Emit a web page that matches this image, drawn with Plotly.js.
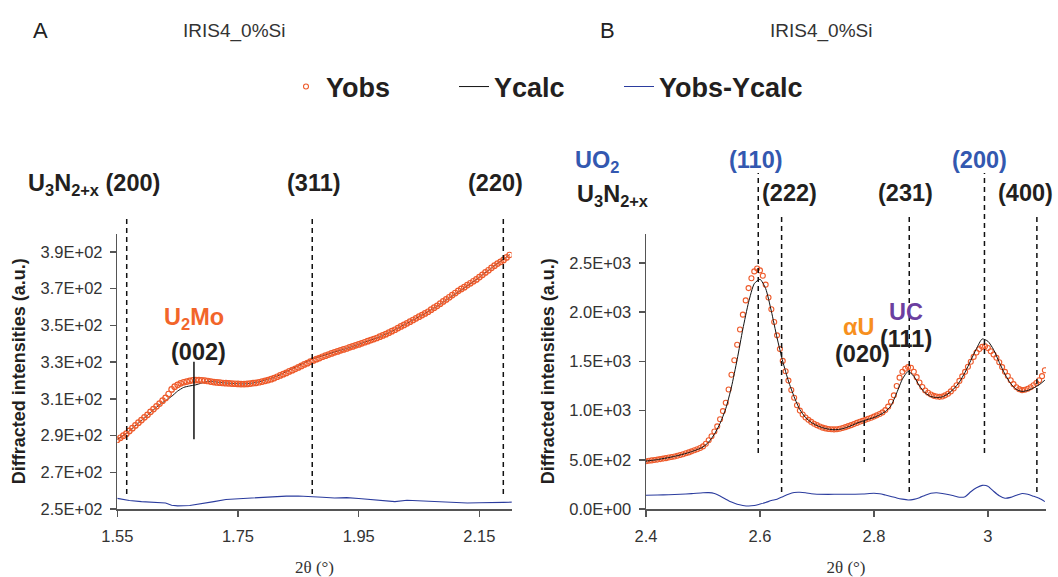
<!DOCTYPE html>
<html>
<head>
<meta charset="utf-8">
<script src="https://cdn.plot.ly/plotly-3.0.1.min.js"></script>
<style>
  html, body { margin: 0; padding: 0; background: #fff; }
  #chart { width: 1058px; height: 577px; }
</style>
</head>
<body>
<div id="chart"></div>
<script>
// ---------- Panel A: 2θ 1.55 – 2.20° ----------
const obsStartA = 1.55, obsStepA = 0.005;
const yObsA = [
  287.7, 288.8, 289.9, 291.0, 292.5, 294.0, 295.5, 297.0, 298.4, 299.9,
  301.3, 302.9, 304.4, 305.9, 307.4, 309.0, 310.5, 312.6, 315.1, 316.6,
  317.6, 318.4, 319.0, 319.4, 319.8, 320.1, 320.2, 320.2, 320.1, 319.9,
  319.7, 319.4, 319.1, 318.9, 318.8, 318.6, 318.5, 318.4, 318.3, 318.2,
  318.1, 318.0, 318.0, 318.1, 318.3, 318.5, 318.7, 319.0, 319.4, 319.8,
  320.2, 320.7, 321.3, 322.0, 322.7, 323.4, 324.1, 324.9, 325.6, 326.3,
  327.1, 327.9, 328.7, 329.4, 330.2, 330.9, 331.6, 332.2, 332.9, 333.5,
  334.1, 334.7, 335.3, 335.8, 336.4, 336.9, 337.4, 338.0, 338.5, 339.1,
  339.6, 340.2, 340.8, 341.4, 342.0, 342.5, 343.1, 343.8, 344.5, 345.2,
  346.0, 346.8, 347.6, 348.5, 349.4, 350.2, 351.1, 352.0, 352.9, 353.8,
  354.7, 355.6, 356.5, 357.4, 358.5, 359.6, 360.6, 361.8, 363.0, 364.1,
  365.3, 366.5, 367.6, 368.8, 369.8, 370.8, 371.9, 372.9, 374.0, 375.0,
  376.3, 377.5, 378.8, 380.0, 381.3, 382.5, 383.6, 384.6, 385.6, 387.0,
  388.3
];
const xCalcA = [1.55,1.56,1.57,1.58,1.59,1.60,1.61,1.62,1.63,1.64,1.65,1.66,1.67,1.68,1.69,1.70,
  1.71,1.72,1.73,1.74,1.75,1.76,1.77,1.78,1.79,1.80,1.81,1.82,1.83,1.84,1.85,1.86,1.87,1.88,1.89,
  1.90,1.91,1.92,1.93,1.94,1.95,1.96,1.97,1.98,1.99,2.00,2.01,2.02,2.03,2.04,2.05,2.06,2.07,2.08,
  2.09,2.10,2.11,2.12,2.13,2.14,2.15,2.16,2.17,2.18,2.19,2.20];
const yCalcA = [287.9,290.0,292.5,295.4,298.2,301.0,304.0,306.8,309.0,311.3,314.2,316.2,317.0,317.6,318.6,319.5,
  319.3,318.9,318.6,318.4,318.2,318.1,318.4,318.9,319.7,320.6,321.7,323.2,324.8,326.4,328.0,329.6,331.2,332.4,333.4,
  334.4,335.5,336.4,337.4,338.5,339.6,340.8,342.0,343.2,344.5,346.0,347.6,349.4,351.1,352.9,354.7,356.5,358.4,360.4,
  362.6,364.8,367.0,369.2,371.5,373.8,376.2,378.7,381.2,383.7,386.0,388.5];
const xDiffA = [1.55,1.57,1.59,1.61,1.63,1.64,1.65,1.67,1.69,1.71,1.73,1.75,1.77,1.79,1.81,1.83,1.85,
  1.87,1.89,1.91,1.93,1.95,1.97,1.99,2.01,2.03,2.05,2.07,2.09,2.11,2.13,2.15,2.17,2.19,2.21];
const yDiffA = [255.8,254.6,254.0,253.5,253.3,252.0,251.7,251.9,252.8,254.0,255.2,255.6,255.8,256.0,256.6,257.0,257.1,
  256.9,256.4,256.0,256.2,255.7,255.2,254.6,254.0,254.8,254.5,254.2,253.7,253.5,253.3,253.4,253.3,253.6,253.8];
const peaksA = [1.5656, 1.873, 2.1896];   // U3N2+x (200), (311), (220)
const peakU2Mo = 1.677;                    // U2Mo (002)
const xTicksA = [1.55, 1.75, 1.95, 2.15];
const xTickTextA = ['1.55', '1.75', '1.95', '2.15'];
const yTicksA = [250, 270, 290, 310, 330, 350, 370, 390];
const yTickTextA = ['2.5E+02','2.7E+02','2.9E+02','3.1E+02','3.3E+02','3.5E+02','3.7E+02','3.9E+02'];

// ---------- Panel B: 2θ 2.40 – 3.10° ----------
const obsStartB = 2.40, obsStepB = 0.005;
const yObsB = [
  485, 490, 494, 498, 502, 507, 512, 517, 523, 528,
  534, 541, 549, 557, 566, 575, 586, 597, 608, 620,
  636, 663, 698, 740, 787, 840, 912, 995, 1080, 1215,
  1365, 1512, 1670, 1825, 1975, 2120, 2245, 2345, 2415, 2445,
  2425, 2370, 2280, 2150, 2030, 1900, 1765, 1625, 1505, 1400,
  1305, 1210, 1130, 1055, 1000, 960, 930, 906, 885, 867,
  852, 838, 827, 819, 813, 810, 809, 810, 815, 823,
  832, 842, 852, 863, 875, 886, 896, 906, 917, 928,
  939, 952, 966, 982, 1005, 1040, 1090, 1155, 1250, 1335,
  1395, 1425, 1442, 1435, 1395, 1340, 1286, 1240, 1205, 1182,
  1163, 1150, 1143, 1140, 1143, 1155, 1172, 1195, 1225, 1258,
  1302, 1348, 1394, 1446, 1497, 1546, 1590, 1625, 1648, 1654,
  1636, 1604, 1570, 1537, 1492, 1442, 1394, 1352, 1308, 1269,
  1238, 1218, 1208, 1212, 1222, 1238, 1257, 1280, 1308, 1350,
  1410
];
const xCalcB = [2.40,2.41,2.42,2.43,2.44,2.45,2.46,2.47,2.48,2.49,2.50,2.51,2.52,2.53,2.54,2.55,2.56,2.57,
  2.58,2.59,2.60,2.61,2.62,2.63,2.64,2.65,2.66,2.67,2.68,2.69,2.70,2.71,2.72,2.73,2.74,2.75,2.76,2.77,
  2.78,2.79,2.80,2.81,2.82,2.83,2.84,2.85,2.86,2.87,2.88,2.89,2.90,2.91,2.92,2.93,2.94,2.95,2.96,2.97,
  2.98,2.99,3.00,3.01,3.02,3.03,3.04,3.05,3.06,3.07,3.08,3.09,3.10];
const yCalcB = [487,494,502,512,523,535,549,565,583,604,630,680,760,870,1020,1240,1520,1830,
  2100,2290,2335,2240,2010,1740,1500,1300,1140,1010,930,880,848,826,812,806,810,825,847,872,
  893,912,930,956,990,1050,1180,1320,1398,1350,1250,1180,1143,1133,1140,1170,1220,1290,1390,1510,
  1630,1728,1705,1620,1490,1370,1275,1215,1195,1205,1230,1262,1310];
const xDiffB = [2.40,2.42,2.44,2.46,2.48,2.50,2.51,2.52,2.53,2.54,2.55,2.56,2.57,2.58,2.59,2.60,2.61,2.62,
  2.63,2.64,2.65,2.66,2.67,2.68,2.69,2.70,2.72,2.74,2.76,2.78,2.80,2.81,2.82,2.83,2.84,2.85,2.86,2.87,
  2.88,2.89,2.90,2.91,2.92,2.93,2.94,2.95,2.96,2.97,2.98,2.99,3.00,3.01,3.02,3.03,3.04,3.05,3.06,3.07,
  3.08,3.09,3.10];
const yDiffB = [140,142,145,150,156,165,166,158,132,100,70,48,36,30,35,50,66,86,
  100,125,150,168,170,165,155,150,149,150,150,152,160,155,142,128,112,100,92,98,
  115,140,160,165,158,148,135,120,125,175,215,240,232,180,135,110,118,140,158,150,
  130,108,75];
const peaksB = [2.597, 2.638, 2.783, 2.862, 2.994, 3.086]; // (110) (222) (020) (231)/(111) (200) (400)
const xTicksB = [2.4, 2.6, 2.8, 3.0];
const xTickTextB = ['2.4', '2.6', '2.8', '3'];
const yTicksB = [0, 500, 1000, 1500, 2000, 2500];
const yTickTextB = ['0.0E+00','5.0E+02','1.0E+03','1.5E+03','2.0E+03','2.5E+03'];

// ---------- helpers & styling ----------
const W = 1058, H = 577;
const px = v => v / W;              // pixel -> paper x
const py = v => (H - v) / H;        // pixel -> paper y (from top)
const sampleGrid = (start, step, n) => Array.from({length: n}, (_, i) => +(start + i * step).toFixed(4));

const SANS = 'Liberation Sans, Arial, Helvetica, sans-serif';
const NARROW = 'Liberation Sans Narrow, Arial Narrow, Liberation Sans, sans-serif';
const SERIF = 'Liberation Serif, Times New Roman, serif';
const C_OBS = '#EE5A2A', C_CALC = '#111111', C_DIFF = '#2B3C9E';
const C_TXT = '#231F20', C_BLUE = '#3358B0', C_U2MO = '#F2652A', C_AU = '#F7901E', C_UC = '#6B3FA0';

const obsMarkerA = {symbol: 'circle-open', size: 5.5, color: C_OBS, line: {width: 1.2, color: C_OBS}};
const obsMarkerB = {symbol: 'circle-open', size: 5, color: C_OBS, line: {width: 1.1, color: C_OBS}};

const traces = [
  // panel A: calculated line beneath the dense observed points
  {x: xCalcA, y: yCalcA, xaxis: 'x', yaxis: 'y', mode: 'lines', line: {color: C_CALC, width: 1, shape: 'spline', smoothing: 0.6}, showlegend: false, hoverinfo: 'skip'},
  {x: sampleGrid(obsStartA, obsStepA, yObsA.length), y: yObsA, xaxis: 'x', yaxis: 'y', mode: 'markers', marker: obsMarkerA, showlegend: false},
  {x: xDiffA, y: yDiffA, xaxis: 'x', yaxis: 'y', mode: 'lines', line: {color: C_DIFF, width: 1.1}, showlegend: false},
  // panel B
  {x: sampleGrid(obsStartB, obsStepB, yObsB.length), y: yObsB, xaxis: 'x2', yaxis: 'y2', mode: 'markers', marker: obsMarkerB,
   name: '<b>Yobs</b>', legendwidth: 123},
  {x: xCalcB, y: yCalcB, xaxis: 'x2', yaxis: 'y2', mode: 'lines', line: {color: C_CALC, width: 1, shape: 'spline', smoothing: 0.6},
   name: '<b>Ycalc</b>', legendwidth: 120},
  {x: xDiffB, y: yDiffB, xaxis: 'x2', yaxis: 'y2', mode: 'lines', line: {color: C_DIFF, width: 1.1, shape: 'spline', smoothing: 0.6},
   name: '<b>Yobs-Ycalc</b>'}
];

const yDomain = [py(509), py(233.5)];
const baseAxis = {
  showline: true, linecolor: '#555', linewidth: 1.5, ticks: 'outside', ticklen: 6, tickwidth: 1.5, tickcolor: '#555',
  showgrid: false, zeroline: false, fixedrange: true,
  tickfont: {family: SANS, size: 16.5, color: '#333'}
};
const xTitle = {text: '2θ (°)', font: {family: SERIF, size: 17, color: '#333'}, standoff: 18};
const yTitle = {text: '<b>Diffracted intensities (a.u.)</b>', font: {family: SANS, size: 18, color: C_TXT}, standoff: 10};

// vertical reflection markers (dashed)
const dash = {color: '#111', width: 1.5, dash: '5px,4px'};
const spansA = [[494, 215], [494, 215], [494, 215]];
const spansB = [[453, 173], [492, 217], [462, 373], [492, 217], [453, 173], [492, 217]];
const shapes = [];
peaksA.forEach((p, i) => shapes.push({type: 'line', xref: 'x', yref: 'paper', x0: p, x1: p,
  y0: py(spansA[i][0]), y1: py(spansA[i][1]), line: dash}));
peaksB.forEach((p, i) => shapes.push({type: 'line', xref: 'x2', yref: 'paper', x0: p, x1: p,
  y0: py(spansB[i][0]), y1: py(spansB[i][1]), line: dash}));
shapes.push({type: 'line', xref: 'x', yref: 'y', x0: peakU2Mo, x1: peakU2Mo, y0: 288, y1: 330.2,
  line: {color: '#111', width: 1.5}});

const LS = 23.5;  // reflection label size
const lab = (text, x, y, color, size, opts) => Object.assign({
  text, xref: 'paper', yref: 'paper', x: px(x), y: py(y), xanchor: 'center', yanchor: 'middle',
  showarrow: false, font: {family: SANS, size: size || LS, color: color || C_TXT}
}, opts || {});

const annotations = [
  lab('A', 40, 30, '#222', 22, {font: {family: NARROW, size: 22, color: '#222'}}),
  lab('IRIS4_0%Si', 234, 31, '#333', 19, {font: {family: NARROW, size: 19, color: '#333'}}),
  lab('B', 607, 30, '#222', 22, {font: {family: NARROW, size: 22, color: '#222'}}),
  lab('IRIS4_0%Si', 821, 31, '#333', 19, {font: {family: NARROW, size: 19, color: '#333'}}),
  // panel A reflections
  lab('<b>U<sub>3</sub>N<sub>2+x</sub> (200)</b>', 94, 185),
  lab('<b>(311)</b>', 314, 183),
  lab('<b>(220)</b>', 495, 183),
  lab('<b>U<sub>2</sub>Mo</b>', 194, 318, C_U2MO),
  lab('<b>(002)</b>', 198, 352),
  // panel B reflections
  lab('<b>UO<sub>2</sub></b>', 573, 161, C_BLUE, LS, {xanchor: 'left'}),
  lab('<b>U<sub>3</sub>N<sub>2+x</sub></b>', 575, 195, C_TXT, LS, {xanchor: 'left'}),
  lab('<b>(110)</b>', 756, 160, C_BLUE),
  lab('<b>(222)</b>', 789, 193),
  lab('<b>(231)</b>', 905, 193),
  lab('<b>(200)</b>', 979, 160, C_BLUE),
  lab('<b>(400)</b>', 1025, 193),
  lab('<b>αU</b>', 858, 327, C_AU),
  lab('<b>UC</b>', 906, 312, C_UC),
  lab('<b>(111)</b>', 906, 339),
  lab('<b>(020)</b>', 862, 354)
];

const layout = {
  width: W, height: H,
  margin: {l: 0, r: 0, t: 0, b: 0},
  paper_bgcolor: '#fff', plot_bgcolor: '#fff',
  showlegend: true,
  legend: {orientation: 'h', x: px(286), xanchor: 'left', y: py(87), yanchor: 'middle',
           font: {family: SANS, size: 27, color: C_TXT}, bgcolor: 'rgba(0,0,0,0)'},
  xaxis: Object.assign({}, baseAxis, {domain: [px(117.3), px(511.7)], range: [1.55, 2.2035], anchor: 'y',
           tickvals: xTicksA, ticktext: xTickTextA, ticklabelstandoff: 6, title: xTitle}),
  yaxis: Object.assign({}, baseAxis, {domain: yDomain, range: [250, 400], anchor: 'x',
           tickvals: yTicksA, ticktext: yTickTextA, ticklabelstandoff: 4, title: yTitle}),
  xaxis2: Object.assign({}, baseAxis, {domain: [px(646), px(1046)], range: [2.4, 3.102], anchor: 'y2',
           tickvals: xTicksB, ticktext: xTickTextB, ticklabelstandoff: 6, title: xTitle}),
  yaxis2: Object.assign({}, baseAxis, {domain: yDomain, range: [0, 2800], anchor: 'x2',
           tickvals: yTicksB, ticktext: yTickTextB, ticklabelstandoff: 4, title: yTitle}),
  shapes, annotations
};

Plotly.newPlot('chart', traces, layout, {staticPlot: true, displayModeBar: false});
</script>
</body>
</html>
